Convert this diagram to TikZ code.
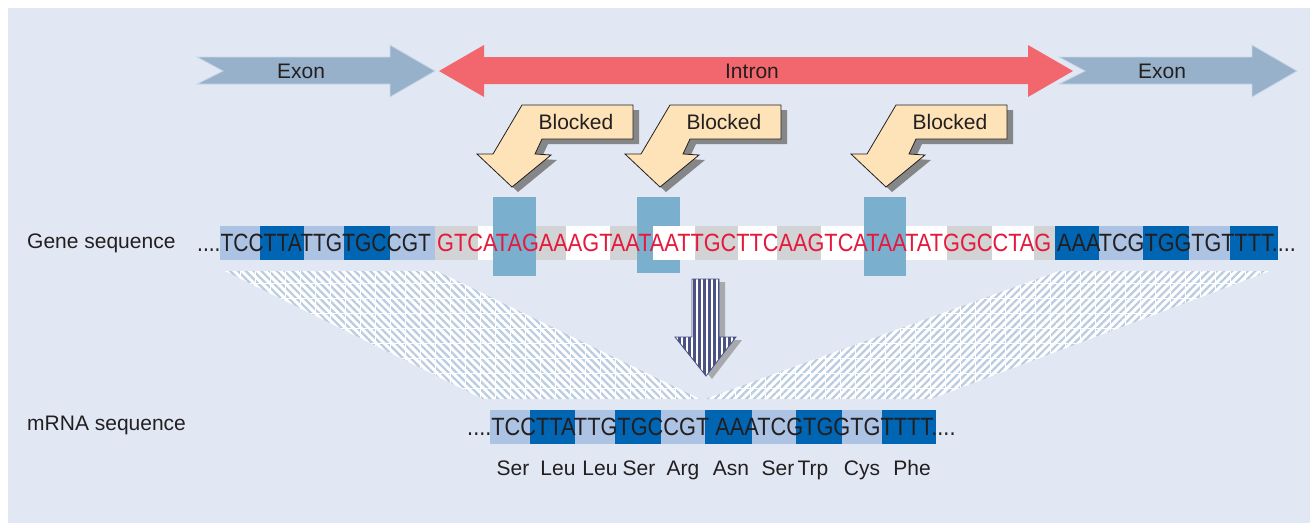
\documentclass[tikz,border=0pt]{standalone}
\usepackage{fontspec}
\setmainfont{Liberation Sans}
\newfontfamily\seqfont[FakeStretch=0.84]{Liberation Sans}
\usetikzlibrary{patterns.meta}

\definecolor{panel}{HTML}{E1E8F4}
\definecolor{ink}{HTML}{231F20}
\definecolor{exonblue}{HTML}{97B1CA}
\definecolor{exonedge}{HTML}{C9D6E7}
\definecolor{intronred}{HTML}{F2676E}
\definecolor{blockfill}{HTML}{FFE3B8}
\definecolor{shadowgray}{HTML}{848688}
\definecolor{seqlight}{HTML}{ADC3E3}
\definecolor{seqdark}{HTML}{0066B3}
\definecolor{seqgray}{HTML}{D1D3D4}
\definecolor{barblue}{HTML}{7BAFCE}
\definecolor{basered}{HTML}{E6193C}
\definecolor{navy}{HTML}{4B5284}
\definecolor{arrowshadow}{HTML}{A7A9AC}
\definecolor{hatchblue}{HTML}{BACCDF}

% outline of a "Blocked" callout arrow
\newcommand\blockedpath{(522,105) -- (633,105) -- (633,139) -- (542,139) -- (535,154) -- (551,155) -- (512,187) -- (477,154) -- (493,154) -- cycle}
% outline of the striped transcription arrow
\newcommand\downpath{(692,279) -- (719,279) -- (719,337) -- (736,337) -- (706,376) -- (675,337) -- (692,337) -- cycle}
% the two hatched projections
\newcommand\leftproj{(225,271) -- (437,271) -- (700,399) -- (483,399) -- cycle}
\newcommand\rightproj{(1059,271) -- (1270,271) -- (931,399) -- (705,399) -- cycle}
% sequence text stretched to the width of its codon boxes
\newcommand\seqtext[2]{\scalebox{#1}[1]{#2}}

\begin{document}
\begin{tikzpicture}[x=1pt,y=-1pt,
  lbl/.style={font=\fontsize{21}{25}\selectfont, text=ink, inner sep=0pt},
  seq/.style={font=\seqfont\fontsize{25}{30}\selectfont, inner sep=0pt, anchor=base west},
  exonarrow/.style={fill=exonblue, draw=exonedge, line width=0.8},
  hatch/.style={pattern={Lines[angle=#1,distance=5.5pt,line width=2.2pt]}, pattern color=hatchblue},
  gridlines/.style={pattern={Lines[angle=#1,distance=15pt,line width=0.7pt]}, pattern color=white}
]
\useasboundingbox (0,0) rectangle (1310,523);
\fill[white] (0,0) rectangle (1310,523);
\fill[panel] (8,8) rectangle (1310,523);

% exon / intron bar
\filldraw[exonarrow] (197,57) -- (390,57) -- (390,45) -- (435,71) -- (390,97) -- (390,84) -- (197,84) -- (223,71) -- cycle;
\filldraw[exonarrow] (1059,57) -- (1252,57) -- (1252,45) -- (1297,71) -- (1252,97) -- (1252,84) -- (1059,84) -- (1085,71) -- cycle;
\fill[intronred] (439,71) -- (484,45) -- (484,57) -- (1028,57) -- (1028,45) -- (1073,71) -- (1028,97) -- (1028,84) -- (484,84) -- (484,97) -- cycle;
\node[lbl] (exonL) at (301,71) {Exon};
\node[lbl] (intronL) at (752,71) {Intron};
\node[lbl] (exonR) at (1162,71) {Exon};

% blocked callouts
\foreach \dx/\nm in {0/blkA,148/blkB,374/blkC}{
  \begin{scope}[xshift=\dx pt]
    \fill[shadowgray, shift={(6,5)}] \blockedpath;
    \filldraw[fill=blockfill, draw=ink, line width=0.8] \blockedpath;
    \node[lbl] (\nm) at (576,122) {Blocked};
  \end{scope}
}

% hatched projections from exons to the mRNA
\fill[white] \leftproj;
\fill[hatch=-45] \leftproj;
\fill[gridlines=0] \leftproj;
\fill[gridlines=90] \leftproj;
\fill[white] \rightproj;
\fill[hatch=45] \rightproj;
\fill[gridlines=0] \rightproj;
\fill[gridlines=90] \rightproj;

% gene sequence codon boxes
\foreach \a/\b/\c in {220/260/seqlight,260/304/seqdark,304/344/seqlight,344/390/seqdark,390/434.5/seqlight,
  435/478/seqgray,478/522/white,522/566/seqgray,566/610/white,610/653/seqgray,653/695/white,
  695/738/seqgray,738/777/white,777/821/seqgray,821/865/white,865/906/seqgray,906/947/white,
  947/992/seqgray,992/1034/white,1034/1055/seqgray,
  1055/1099/seqdark,1099/1143/seqlight,1143/1189/seqdark,1189/1230/seqlight,1230/1278/seqdark}
  \fill[\c] (\a,226) rectangle (\b,260);

% blocked sites
\fill[barblue] (493,197) rectangle (536,276);
\fill[barblue] (864,197) rectangle (906,276);
\fill[barblue] (637,197) rectangle (680,273);
\fill[white] (653,226) rectangle (695,260);

\node[lbl, anchor=west] (genelbl) at (27,243) {Gene sequence};
\node[seq, text=ink] (geneA) at (197,251.5) {....TCCTTATTGTGCCGT};
\node[seq, text=basered] (geneI) at (437,251.5) {\seqtext{1.034}{GTCATAGAAAGTAATAATTGCTTCAAGTCATAATATGGCCTAG}};
\node[seq, text=ink] (geneB) at (1057,251.5) {\seqtext{1.03}{AAATCGTGGTGTTTT....}};

% striped transcription arrow
\fill[arrowshadow, shift={(6,3)}] \downpath;
\begin{scope}
  \clip \downpath;
  \fill[navy] \downpath;
  \foreach \x in {677,682,...,732}
    \draw[white, line width=2] (\x,270) -- (\x,380);
\end{scope}
\draw[navy, line width=0.8] \downpath;

% mRNA codon boxes
\foreach \a/\b/\c in {490/530/seqlight,530/575/seqdark,575/615/seqlight,615/661/seqdark,661/705/seqlight,
  705/752/seqdark,752/796/seqlight,796/842/seqdark,842/882/seqlight,882/936/seqdark}
  \fill[\c] (\a,410) rectangle (\b,444);

\node[lbl, anchor=west] (mrnalbl) at (27,425) {mRNA sequence};
\node[seq, text=ink] (mrnaseq) at (467,435.5) {\seqtext{1.036}{....TCCTTATTGTGCCGT AAATCGTGGTGTTTT....}};

% amino acids
\foreach \x/\aa/\nm in {513/Ser/aa1,558/Leu/aa2,600/Leu/aa3,639/Ser/aa4,683/Arg/aa5,
  731/Asn/aa6,778/Ser/aa7,813/Trp/aa8,862/Cys/aa9,912/Phe/aa10}
  \node[lbl, anchor=base] (\nm) at (\x,475) {\aa};
\end{tikzpicture}
\end{document}
